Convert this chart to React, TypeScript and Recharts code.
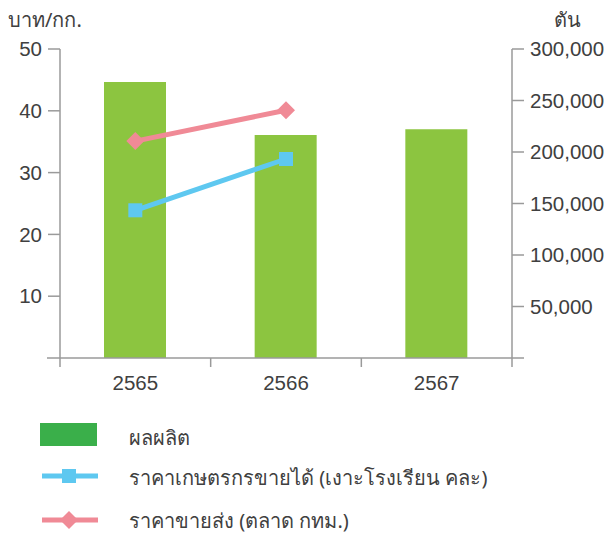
import {
  ComposedChart,
  Bar,
  Line,
  XAxis,
  YAxis,
} from "recharts";

const years = ["2565", "2566", "2567"];
const production = [268000, 216500, 222000];
const farmPrice = [23.9, 32.2, null];
const wholesalePrice = [35.1, 40.1, null];
const leftTicks = [10, 20, 30, 40, 50];
const rightTicks = [50000, 100000, 150000, 200000, 250000, 300000];

const seriesNames = {
  production: "ผลผลิต",
  farm: "ราคาเกษตรกรขายได้ (เงาะโรงเรียน คละ)",
  wholesale: "ราคาขายส่ง (ตลาด กทม.)",
};

const data = years.map((y, i) => ({
  year: y,
  production: production[i],
  farm: farmPrice[i],
  wholesale: wholesalePrice[i],
}));

const W = 608;
const H = 533;
const PLOT_LEFT = 60;
const PLOT_RIGHT = 512;
const HALF_BAND = (PLOT_RIGHT - PLOT_LEFT) / years.length / 2;

const GREEN = "#8cc540";
const LEGEND_GREEN = "#3aaf4a";
const BLUE = "#5ec8f0";
const PINK = "#f08a96";
const AXIS = "#9a9a9a";
const TEXT = "#404040";
const FONT = "'Noto Sans', 'Liberation Sans', sans-serif";
const NUM_FONT = "'Liberation Sans', Arial, sans-serif";

const SquareDot = (props: any) => {
  const { cx, cy } = props;
  if (cx == null || cy == null || props.value == null) return null;
  return <rect x={cx - 7} y={cy - 7} width={14} height={14} fill={BLUE} />;
};

const DiamondDot = (props: any) => {
  const { cx, cy } = props;
  if (cx == null || cy == null || props.value == null) return null;
  const r = 9;
  return (
    <polygon
      points={`${cx},${cy - r} ${cx + r},${cy} ${cx},${cy + r} ${cx - r},${cy}`}
      fill={PINK}
    />
  );
};

const YearTick = (props: any) => {
  const { x, y, payload, index } = props;
  const left = x - HALF_BAND;
  const right = x + HALF_BAND;
  return (
    <g>
      {index === 0 && (
        <line x1={left - 13} y1={y} x2={left} y2={y} stroke={AXIS} strokeWidth={1.5} />
      )}
      <line x1={left} y1={y} x2={left} y2={y + 9} stroke={AXIS} strokeWidth={1.5} />
      {index === years.length - 1 && (
        <>
          <line x1={right} y1={y} x2={right} y2={y + 9} stroke={AXIS} strokeWidth={1.5} />
          <line x1={right} y1={y} x2={right + 12} y2={y} stroke={AXIS} strokeWidth={1.5} />
        </>
      )}
      <text
        x={x}
        y={y + 32}
        textAnchor="middle"
        fill={TEXT}
        fontSize={20.5}
        fontFamily={NUM_FONT}
      >
        {payload.value}
      </text>
    </g>
  );
};

const fmt = (v: number) => v.toLocaleString("en-US");

export default function App() {
  return (
    <div style={{ position: "relative", width: W, height: H, background: "#fff", fontFamily: FONT, color: TEXT }}>
      <style>{"body{margin:0}"}</style>
      <ComposedChart
        width={W}
        height={H}
        data={data}
        margin={{ top: 49, left: 10, right: 6, bottom: 145 }}
      >
        <XAxis
          dataKey="year"
          height={30}
          axisLine={{ stroke: AXIS, strokeWidth: 1.5 }}
          tickLine={false}
          tickSize={0}
          tickMargin={0}
          tick={<YearTick />}
          interval={0}
        />
        <YAxis
          yAxisId="left"
          width={50}
          domain={[0, 50]}
          ticks={leftTicks}
          allowDataOverflow
          axisLine={{ stroke: AXIS, strokeWidth: 1.5 }}
          tickLine={{ stroke: AXIS, strokeWidth: 1.5 }}
          tickSize={12}
          tickMargin={6}
          tick={{ fill: TEXT, fontSize: 20.5, fontFamily: NUM_FONT }}
        />
        <YAxis
          yAxisId="right"
          orientation="right"
          width={90}
          domain={[0, 300000]}
          ticks={rightTicks}
          tickFormatter={fmt}
          axisLine={{ stroke: AXIS, strokeWidth: 1.5 }}
          tickLine={{ stroke: AXIS, strokeWidth: 1.5 }}
          tickSize={12}
          tickMargin={6}
          tick={{ fill: TEXT, fontSize: 20.5, fontFamily: NUM_FONT }}
        />
        <Bar
          yAxisId="right"
          dataKey="production"
          name={seriesNames.production}
          fill={GREEN}
          barSize={62}
          isAnimationActive={false}
        />
        <Line
          yAxisId="left"
          dataKey="farm"
          name={seriesNames.farm}
          stroke={BLUE}
          strokeWidth={5}
          dot={<SquareDot />}
          activeDot={false}
          connectNulls={false}
          isAnimationActive={false}
        />
        <Line
          yAxisId="left"
          dataKey="wholesale"
          name={seriesNames.wholesale}
          stroke={PINK}
          strokeWidth={5}
          dot={<DiamondDot />}
          activeDot={false}
          connectNulls={false}
          isAnimationActive={false}
        />
      </ComposedChart>

      <div style={{ position: "absolute", left: 8, top: 4, fontSize: 20 }}>บาท/กก.</div>
      <div style={{ position: "absolute", left: 554, top: 4, fontSize: 20 }}>ตัน</div>

      <div style={{ position: "absolute", left: 40, top: 423, width: 57, height: 23, background: LEGEND_GREEN }} />
      <div style={{ position: "absolute", left: 129, top: 422, fontSize: 20 }}>{seriesNames.production}</div>

      <svg style={{ position: "absolute", left: 40, top: 462 }} width={60} height={28}>
        <line x1={2} y1={14} x2={58} y2={14} stroke={BLUE} strokeWidth={5} />
        <rect x={22} y={7} width={14} height={14} fill={BLUE} />
      </svg>
      <div style={{ position: "absolute", left: 129, top: 462, fontSize: 20 }}>{seriesNames.farm}</div>

      <svg style={{ position: "absolute", left: 40, top: 506 }} width={60} height={28}>
        <line x1={2} y1={14} x2={58} y2={14} stroke={PINK} strokeWidth={5} />
        <polygon points="29,5 38,14 29,23 20,14" fill={PINK} />
      </svg>
      <div style={{ position: "absolute", left: 129, top: 505, fontSize: 20 }}>{seriesNames.wholesale}</div>
    </div>
  );
}
